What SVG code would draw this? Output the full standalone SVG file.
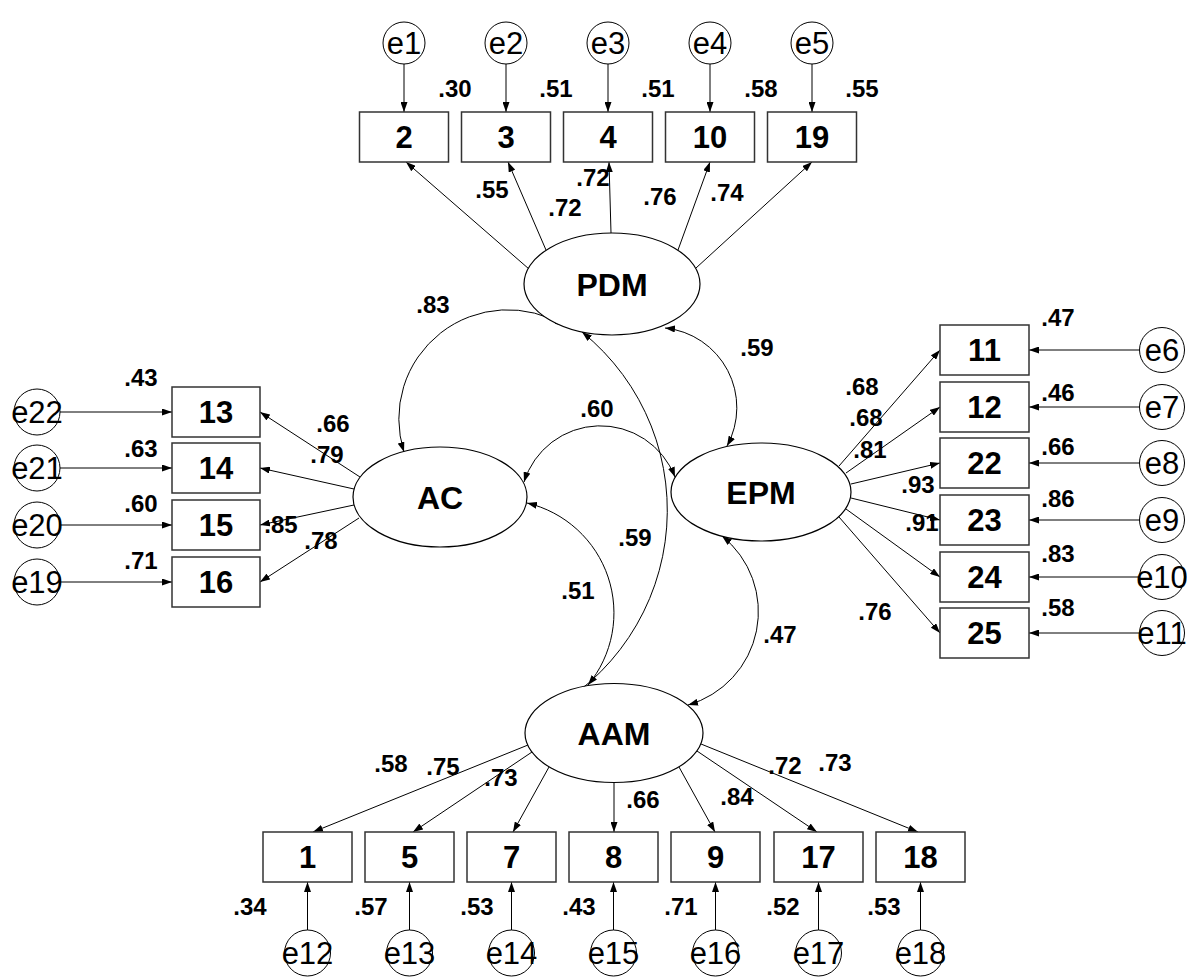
<svg xmlns="http://www.w3.org/2000/svg" width="1187" height="979" viewBox="0 0 1187 979">
<defs>
<marker id="ah" viewBox="0 0 10 7" refX="10" refY="3.5" markerWidth="10" markerHeight="7" orient="auto-start-reverse" markerUnits="userSpaceOnUse"><path d="M0,0 L10,3.5 L0,7 z" fill="#000"/></marker>
</defs>
<style>
.box{fill:#fff;stroke:#333;stroke-width:1.5}
.lat{fill:#fff;stroke:#000;stroke-width:1.2}
.err{fill:#fff;stroke:#000;stroke-width:1}
.bl{font-family:"Liberation Sans",Arial,sans-serif;font-weight:bold;font-size:31px;text-anchor:middle;fill:#000}
.ll{font-family:"Liberation Sans",Arial,sans-serif;font-weight:bold;font-size:32px;text-anchor:middle;fill:#000}
.el{font-family:"Liberation Sans",Arial,sans-serif;font-size:31px;text-anchor:middle;fill:#000}
.cf{font-family:"Liberation Sans",Arial,sans-serif;font-weight:bold;font-size:24px;text-anchor:middle;fill:#000}
.ln{fill:none;stroke:#000;stroke-width:1;marker-end:url(#ah)}
.cv{fill:none;stroke:#000;stroke-width:1;marker-start:url(#ah);marker-end:url(#ah)}
</style>
<rect width="1187" height="979" fill="#fff"/>
<g id="connectors">
<path class="ln" d="M404 64 V112"/>
<path class="ln" d="M506 64 V112"/>
<path class="ln" d="M608 64 V112"/>
<path class="ln" d="M710 64 V112"/>
<path class="ln" d="M812 64 V112"/>
<path class="ln" d="M529 269 L406 162"/>
<path class="ln" d="M546 250 L508 162"/>
<path class="ln" d="M611 233 L609 162"/>
<path class="ln" d="M678 250 L710 162"/>
<path class="ln" d="M696 268 L812 162"/>
<path class="ln" d="M360 477 L260 412"/>
<path class="ln" d="M354 489 L260 468"/>
<path class="ln" d="M354 505 L260 525"/>
<path class="ln" d="M359 518 L260 582"/>
<path class="ln" d="M60 412 H172"/>
<path class="ln" d="M60 468 H172"/>
<path class="ln" d="M60 525 H172"/>
<path class="ln" d="M60 582 H172"/>
<path class="ln" d="M839 466 L940 350"/>
<path class="ln" d="M846 473 L940 407"/>
<path class="ln" d="M851 484 L940 463"/>
<path class="ln" d="M851 498 L940 520"/>
<path class="ln" d="M846 509 L940 577"/>
<path class="ln" d="M839 517 L940 633"/>
<path class="ln" d="M1140 350 H1029"/>
<path class="ln" d="M1140 407 H1029"/>
<path class="ln" d="M1140 463 H1029"/>
<path class="ln" d="M1140 520 H1029"/>
<path class="ln" d="M1140 577 H1029"/>
<path class="ln" d="M1140 633 H1029"/>
<path class="ln" d="M528 745 L313 832"/>
<path class="ln" d="M532 752 L413 832"/>
<path class="ln" d="M549 767 L513 832"/>
<path class="ln" d="M614 782 L614 832"/>
<path class="ln" d="M679 767 L715 832"/>
<path class="ln" d="M697 751 L817 832"/>
<path class="ln" d="M701 744 L918 832"/>
<path class="ln" d="M307.5 930 V882"/>
<path class="ln" d="M409.5 930 V882"/>
<path class="ln" d="M511.5 930 V882"/>
<path class="ln" d="M613.5 930 V882"/>
<path class="ln" d="M715.5 930 V882"/>
<path class="ln" d="M818.5 930 V882"/>
<path class="ln" d="M920.5 930 V882"/>
<path class="cv" d="M565 326 A109 109 0 0 0 404 452"/>
<path class="cv" d="M665 328 A80 80 0 0 1 727 446"/>
<path class="cv" d="M524 482 A80 80 0 0 1 675 477"/>
<path class="cv" d="M527 503 A113 113 0 0 1 588 685"/>
<path class="cv" d="M582 332 A229 229 0 0 1 528 721"/>
<path class="cv" d="M722 536 A97 97 0 0 1 688 705"/>
</g>

<g id="PDM"><ellipse class="lat" cx="612" cy="284" rx="88" ry="51"/><text class="ll" x="612" y="295.5">PDM</text></g>
<g id="AC"><ellipse class="lat" cx="440" cy="497" rx="87" ry="50"/><text class="ll" x="440" y="508.5">AC</text></g>
<g id="EPM"><ellipse class="lat" cx="761" cy="492" rx="90" ry="49"/><text class="ll" x="761" y="503.5">EPM</text></g>
<g id="AAM"><ellipse class="lat" cx="614" cy="733" rx="89" ry="49.5"/><text class="ll" x="614" y="744.5">AAM</text></g>

<g id="v2"><rect class="box" x="359.5" y="112" width="89" height="50"/><text class="bl" x="404" y="148">2</text></g>
<g id="v3"><rect class="box" x="461.5" y="112" width="89" height="50"/><text class="bl" x="506" y="148">3</text></g>
<g id="v4"><rect class="box" x="563.5" y="112" width="89" height="50"/><text class="bl" x="608" y="148">4</text></g>
<g id="v10"><rect class="box" x="665.5" y="112" width="89" height="50"/><text class="bl" x="710" y="148">10</text></g>
<g id="v19"><rect class="box" x="767.5" y="112" width="89" height="50"/><text class="bl" x="812" y="148">19</text></g>

<g id="v13"><rect class="box" x="172" y="387" width="88" height="50"/><text class="bl" x="216" y="423">13</text></g>
<g id="v14"><rect class="box" x="172" y="443" width="88" height="50"/><text class="bl" x="216" y="479">14</text></g>
<g id="v15"><rect class="box" x="172" y="500" width="88" height="50"/><text class="bl" x="216" y="536">15</text></g>
<g id="v16"><rect class="box" x="172" y="557" width="88" height="50"/><text class="bl" x="216" y="593">16</text></g>

<g id="v11"><rect class="box" x="940" y="325" width="89" height="50"/><text class="bl" x="984.5" y="361">11</text></g>
<g id="v12"><rect class="box" x="940" y="382" width="89" height="50"/><text class="bl" x="984.5" y="418">12</text></g>
<g id="v22"><rect class="box" x="940" y="438" width="89" height="50"/><text class="bl" x="984.5" y="474">22</text></g>
<g id="v23"><rect class="box" x="940" y="495" width="89" height="50"/><text class="bl" x="984.5" y="531">23</text></g>
<g id="v24"><rect class="box" x="940" y="552" width="89" height="50"/><text class="bl" x="984.5" y="588">24</text></g>
<g id="v25"><rect class="box" x="940" y="608" width="89" height="50"/><text class="bl" x="984.5" y="644">25</text></g>

<g id="v1"><rect class="box" x="263" y="832" width="89" height="50"/><text class="bl" x="307.5" y="868">1</text></g>
<g id="v5"><rect class="box" x="365" y="832" width="89" height="50"/><text class="bl" x="409.5" y="868">5</text></g>
<g id="v7"><rect class="box" x="467" y="832" width="89" height="50"/><text class="bl" x="511.5" y="868">7</text></g>
<g id="v8"><rect class="box" x="569" y="832" width="89" height="50"/><text class="bl" x="613.5" y="868">8</text></g>
<g id="v9"><rect class="box" x="671" y="832" width="89" height="50"/><text class="bl" x="715.5" y="868">9</text></g>
<g id="v17"><rect class="box" x="774" y="832" width="89" height="50"/><text class="bl" x="818.5" y="868">17</text></g>
<g id="v18"><rect class="box" x="876" y="832" width="89" height="50"/><text class="bl" x="920.5" y="868">18</text></g>

<g id="e1"><circle class="err" cx="404" cy="43" r="21"/><text class="el" x="404" y="54">e1</text></g>
<g id="e2"><circle class="err" cx="506" cy="43" r="21"/><text class="el" x="506" y="54">e2</text></g>
<g id="e3"><circle class="err" cx="608" cy="43" r="21"/><text class="el" x="608" y="54">e3</text></g>
<g id="e4"><circle class="err" cx="710" cy="43" r="21"/><text class="el" x="710" y="54">e4</text></g>
<g id="e5"><circle class="err" cx="812" cy="43" r="21"/><text class="el" x="812" y="54">e5</text></g>

<g id="e22"><circle class="err" cx="37" cy="412" r="23"/><text class="el" x="37" y="423">e22</text></g>
<g id="e21"><circle class="err" cx="37" cy="468" r="23"/><text class="el" x="37" y="479">e21</text></g>
<g id="e20"><circle class="err" cx="37" cy="525" r="23"/><text class="el" x="37" y="536">e20</text></g>
<g id="e19"><circle class="err" cx="37" cy="582" r="23"/><text class="el" x="37" y="593">e19</text></g>

<g id="e6"><circle class="err" cx="1162" cy="350" r="22.5"/><text class="el" x="1162" y="361">e6</text></g>
<g id="e7"><circle class="err" cx="1162" cy="407" r="22.5"/><text class="el" x="1162" y="418">e7</text></g>
<g id="e8"><circle class="err" cx="1162" cy="463" r="22.5"/><text class="el" x="1162" y="474">e8</text></g>
<g id="e9"><circle class="err" cx="1162" cy="520" r="22.5"/><text class="el" x="1162" y="531">e9</text></g>
<g id="e10"><circle class="err" cx="1162" cy="577" r="22.5"/><text class="el" x="1162" y="588">e10</text></g>
<g id="e11"><circle class="err" cx="1162" cy="633" r="22.5"/><text class="el" x="1162" y="644">e11</text></g>

<g id="e12"><circle class="err" cx="307.5" cy="953" r="23"/><text class="el" x="307.5" y="964">e12</text></g>
<g id="e13"><circle class="err" cx="409.5" cy="953" r="23"/><text class="el" x="409.5" y="964">e13</text></g>
<g id="e14"><circle class="err" cx="511.5" cy="953" r="23"/><text class="el" x="511.5" y="964">e14</text></g>
<g id="e15"><circle class="err" cx="613.5" cy="953" r="23"/><text class="el" x="613.5" y="964">e15</text></g>
<g id="e16"><circle class="err" cx="715.5" cy="953" r="23"/><text class="el" x="715.5" y="964">e16</text></g>
<g id="e17"><circle class="err" cx="818.5" cy="953" r="23"/><text class="el" x="818.5" y="964">e17</text></g>
<g id="e18"><circle class="err" cx="920.5" cy="953" r="23"/><text class="el" x="920.5" y="964">e18</text></g>

<g id="labels">
<text class="cf" x="455" y="97">.30</text>
<text class="cf" x="556" y="97">.51</text>
<text class="cf" x="658" y="97">.51</text>
<text class="cf" x="761" y="97">.58</text>
<text class="cf" x="862" y="97">.55</text>
<text class="cf" x="492" y="198">.55</text>
<text class="cf" x="565" y="216">.72</text>
<text class="cf" x="593" y="186">.72</text>
<text class="cf" x="660" y="205">.76</text>
<text class="cf" x="727" y="201">.74</text>
<text class="cf" x="433" y="313">.83</text>
<text class="cf" x="757" y="356">.59</text>
<text class="cf" x="141" y="386">.43</text>
<text class="cf" x="141" y="457">.63</text>
<text class="cf" x="141" y="512">.60</text>
<text class="cf" x="141" y="569">.71</text>
<text class="cf" x="333" y="432">.66</text>
<text class="cf" x="327" y="463">.79</text>
<text class="cf" x="281" y="533">.85</text>
<text class="cf" x="321" y="549">.78</text>
<text class="cf" x="862" y="395">.68</text>
<text class="cf" x="866" y="426">.68</text>
<text class="cf" x="870" y="458">.81</text>
<text class="cf" x="918" y="493">.93</text>
<text class="cf" x="922" y="531">.91</text>
<text class="cf" x="875" y="620">.76</text>
<text class="cf" x="1058" y="326">.47</text>
<text class="cf" x="1058" y="401">.46</text>
<text class="cf" x="1058" y="455">.66</text>
<text class="cf" x="1058" y="507">.86</text>
<text class="cf" x="1058" y="562">.83</text>
<text class="cf" x="1058" y="616">.58</text>
<text class="cf" x="597" y="417">.60</text>
<text class="cf" x="635" y="546">.59</text>
<text class="cf" x="578" y="599">.51</text>
<text class="cf" x="780" y="643">.47</text>
<text class="cf" x="391" y="772">.58</text>
<text class="cf" x="443" y="775">.75</text>
<text class="cf" x="501" y="786">.73</text>
<text class="cf" x="643" y="808">.66</text>
<text class="cf" x="737" y="805">.84</text>
<text class="cf" x="785" y="774">.72</text>
<text class="cf" x="835" y="771">.73</text>
<text class="cf" x="250" y="915">.34</text>
<text class="cf" x="371" y="915">.57</text>
<text class="cf" x="477" y="915">.53</text>
<text class="cf" x="579" y="915">.43</text>
<text class="cf" x="681" y="915">.71</text>
<text class="cf" x="783" y="915">.52</text>
<text class="cf" x="884" y="915">.53</text>
</g>
</svg>
